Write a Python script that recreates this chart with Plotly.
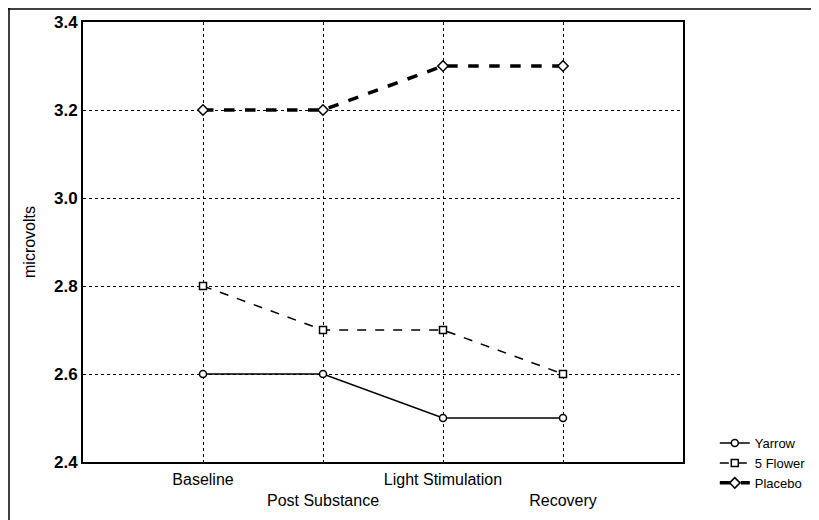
import plotly.graph_objects as go

categories = ["Baseline", "Post Substance", "Light Stimulation", "Recovery"]
tick_labels = ["Baseline", "<br>Post Substance", "Light Stimulation", "<br>Recovery"]
yarrow = [2.6, 2.6, 2.5, 2.5]
five_flower = [2.8, 2.7, 2.7, 2.6]
placebo = [3.2, 3.2, 3.3, 3.3]
y_ticks = [2.4, 2.6, 2.8, 3.0, 3.2, 3.4]

xi = list(range(len(categories)))

fig = go.Figure()
fig.add_trace(go.Scatter(
    x=xi, y=yarrow, name="Yarrow", mode="lines+markers",
    line=dict(color="black", width=1.5, dash="solid"),
    marker=dict(symbol="circle", size=7, color="white", line=dict(color="black", width=1.5)),
))
fig.add_trace(go.Scatter(
    x=xi, y=five_flower, name="5 Flower", mode="lines+markers",
    line=dict(color="black", width=1.5, dash="dash"),
    marker=dict(symbol="square", size=7, color="white", line=dict(color="black", width=1.5)),
))
fig.add_trace(go.Scatter(
    x=xi, y=placebo, name="Placebo", mode="lines+markers",
    line=dict(color="black", width=3.5, dash="dash"),
    marker=dict(symbol="diamond", size=8, color="white", line=dict(color="black", width=1.5)),
))

fig.update_layout(
    width=819, height=520,
    margin=dict(l=75, r=144, t=14, b=66, autoexpand=False),
    paper_bgcolor="white", plot_bgcolor="white",
    font=dict(family="Liberation Sans, Arial, sans-serif", color="black", size=13),
    showlegend=True,
    legend=dict(x=1.053, xanchor="left", y=0.077, yanchor="top",
                font=dict(size=13), bgcolor="rgba(0,0,0,0)",
                itemwidth=30, tracegroupgap=0),
    xaxis=dict(
        range=[-1, 4], tickmode="array", tickvals=xi, ticktext=tick_labels,
        showgrid=True, gridcolor="black", griddash="dot", gridwidth=1,
        showline=True, linecolor="black", linewidth=2, mirror=True,
        ticks="", zeroline=False, tickangle=0, automargin=False,
        tickfont=dict(size=16), ticklabelstandoff=2,
    ),
    yaxis=dict(
        range=[2.4, 3.4], tickmode="array", tickvals=y_ticks,
        ticktext=[f"<b>{v:.1f}</b>" for v in y_ticks],
        showgrid=True, gridcolor="black", griddash="dot", gridwidth=1,
        showline=True, linecolor="black", linewidth=2, mirror=True,
        ticks="", zeroline=False, tickfont=dict(size=17), automargin=False,
        title=dict(text="microvolts", font=dict(size=16), standoff=14),
    ),
)

# outer frame of the figure (left and top edges)
fig.add_shape(type="line", xref="paper", yref="paper",
              xsizemode="pixel", xanchor=0, x0=-74, x1=-74,
              y0=-0.2, y1=1.04,
              line=dict(color="black", width=1.5))
fig.add_shape(type="line", xref="paper", yref="paper",
              ysizemode="pixel", yanchor=1, y0=13, y1=13,
              x0=-0.125, x1=1.25,
              line=dict(color="black", width=1.5))

fig.write_html("out.html")
